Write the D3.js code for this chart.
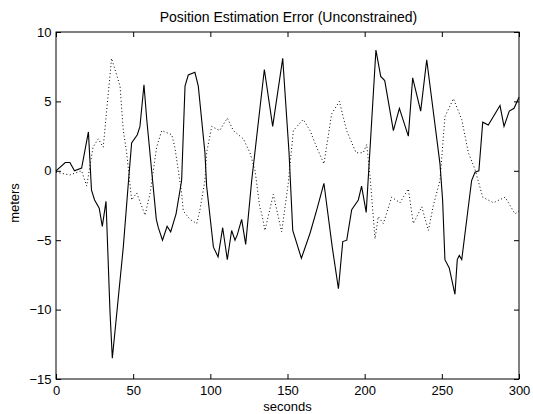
<!DOCTYPE html>
<html><head><meta charset="utf-8">
<script src="https://cdn.jsdelivr.net/npm/d3@7"></script>
<style>body{margin:0;background:#fff}svg{display:block}text{font-family:"Liberation Sans",Arial,sans-serif;fill:#000}</style>
</head><body><svg id="c" width="533" height="414"></svg>
<script>
const title = "Position Estimation Error (Unconstrained)";
const xLabel = "seconds";
const yLabel = "meters";
const xTicks = [0, 50, 100, 150, 200, 250, 300];
const yTicks = [-15, -10, -5, 0, 5, 10];

const solidT = [0, 6, 9, 12, 16.6, 21, 23, 25, 28, 30, 32.4, 35, 36.5, 43.6, 47, 49, 52.7, 54.4, 57, 58.8, 65, 66.3, 69, 72, 74.3, 77.8, 81.4, 83.6, 85.7, 90, 92.2, 96.5, 97.6, 102, 105, 108, 111, 113.8, 116, 117.5, 120.3, 122.9, 126.8, 135, 140.4, 146.9, 151, 153.4, 159, 164.6, 169, 173.6, 179, 183, 185.8, 188.4, 191.6, 195.9, 198, 201, 207.3, 210.4, 213, 218.6, 222.5, 228.3, 231.1, 236.3, 240.2, 248.8, 250.5, 252, 254.8, 258.5, 260, 261.3, 262.9, 269.3, 271.5, 274, 276.5, 280.1, 287.7, 290.3, 293.7, 296.8, 300];
const solidV = [0, 0.6, 0.6, 0, 0.2, 2.8, -1.4, -2.1, -2.7, -4.0, -2.2, -10.2, -13.5, -5.5, -0.7, 2.0, 2.6, 3.2, 6.2, 3.7, -3.5, -4.1, -5.0, -4.0, -4.4, -3.1, -0.7, 6.1, 6.9, 7.1, 6.1, 1.3, -1.1, -5.5, -6.2, -4.1, -6.4, -4.3, -5.0, -4.6, -3.5, -5.3, -0.7, 7.3, 3.2, 8.1, 1.3, -4.3, -6.3, -4.5, -2.8, -0.9, -5.5, -8.5, -5.1, -5.0, -2.8, -2.1, -1.1, -3.0, 8.7, 6.8, 6.5, 2.9, 4.5, 2.5, 6.7, 4.3, 8.0, 0.5, -2.1, -6.4, -7.0, -8.9, -6.4, -6.1, -6.4, -0.7, -0.1, 0.0, 3.5, 3.3, 4.7, 3.2, 4.3, 4.5, 5.3];

const dotT = [0, 9, 16.6, 19.9, 24, 27.4, 30.6, 36, 41.5, 43.6, 45.8, 49, 52.3, 57.7, 61, 65.2, 68.5, 75, 77, 81.4, 82.5, 86.8, 91.2, 93.3, 96.5, 97.6, 100.9, 106, 111, 114.9, 121.4, 125.7, 129, 132, 133.3, 135.4, 140.8, 146.2, 150.5, 153.8, 160.2, 164.6, 168.9, 173.6, 178.6, 183.6, 188.3, 194.4, 199.1, 201.3, 203.5, 206.7, 208.8, 212.1, 217.5, 222.9, 228.3, 231.5, 237, 241.3, 244.5, 248.8, 252, 257.5, 262.9, 267.2, 271.5, 276.5, 283.4, 291, 297.4, 300];
const dotV = [-0.1, -0.3, 0, -1.1, 1.7, 2.3, 1.7, 8.1, 6.1, 2.9, 1.3, -2.1, -1.6, -3.2, -1.6, 1.7, 2.9, 2.6, 1.7, -1.6, -2.9, -3.5, -3.8, -2.8, -0.7, 1.3, 3.2, 2.9, 3.8, 2.9, 2.3, 1.3, 0, -2.6, -3.1, -4.3, -1.7, -4.4, -0.9, 2.9, 3.7, 2.9, 1.7, 0.5, 4.1, 5.0, 2.9, 1.3, 1.3, 1.9, -0.4, -4.9, -3.3, -3.8, -1.9, -2.3, -1.3, -3.8, -2.6, -4.3, -2.5, -0.7, 3.9, 5.2, 3.7, 1.3, 0.1, -1.9, -2.3, -1.9, -3.1, -2.9];

const svg = d3.select("#c");
const L = 56, R = 519, T = 32, B = 379;
const x = d3.scaleLinear().domain([0, 300]).range([L, R]);
const y = d3.scaleLinear().domain([-15, 10]).range([B, T]);

const g = svg.append("g");
g.append("rect").attr("x", L).attr("y", T).attr("width", R - L).attr("height", B - T)
  .attr("fill", "none").attr("stroke", "#000").attr("stroke-width", 1);

const tl = 5;
const fs = "13px";
const xb = svg.append("g").attr("transform", `translate(0,${B})`)
  .call(d3.axisBottom(x).tickValues(xTicks).tickSize(-tl).tickPadding(7).tickFormat(d3.format("d")));
const xt = svg.append("g").attr("transform", `translate(0,${T})`)
  .call(d3.axisTop(x).tickValues(xTicks).tickSize(-tl).tickFormat(""));
const yl = svg.append("g").attr("transform", `translate(${L},0)`)
  .call(d3.axisLeft(y).tickValues(yTicks).tickSize(-tl).tickPadding(4.5).tickFormat(d3.format("d")));
const yr = svg.append("g").attr("transform", `translate(${R},0)`)
  .call(d3.axisRight(y).tickValues(yTicks).tickSize(-tl).tickFormat(""));
[xb, xt, yl, yr].forEach(a => {
  a.select(".domain").remove();
  a.selectAll("line").attr("stroke", "#000");
  a.selectAll("text").style("font-size", fs).style("font-family", '"Liberation Sans",Arial,sans-serif').attr("fill", "#000");
});

const line = d3.line().x(d => x(d[0])).y(d => y(d[1]));
const dotData = dotT.map((t, i) => [t, dotV[i]]);
const solidData = solidT.map((t, i) => [t, solidV[i]]);

g.append("path").datum(dotData).attr("d", line).attr("fill", "none")
  .attr("stroke", "#000").attr("stroke-width", 1).attr("stroke-dasharray", "1,2.5");
g.append("path").datum(solidData).attr("d", line).attr("fill", "none")
  .attr("stroke", "#000").attr("stroke-width", 1.1);

svg.append("text").attr("x", 288.5).attr("y", 21.5).attr("text-anchor", "middle")
  .style("font-size", "14px").text(title);
svg.append("text").attr("x", (L + R) / 2).attr("y", 410.5).attr("text-anchor", "middle")
  .style("font-size", "13px").text(xLabel);
svg.append("text").attr("transform", `translate(19,203) rotate(-90)`).attr("text-anchor", "middle")
  .style("font-size", "13px").text(yLabel);
</script></body></html>
